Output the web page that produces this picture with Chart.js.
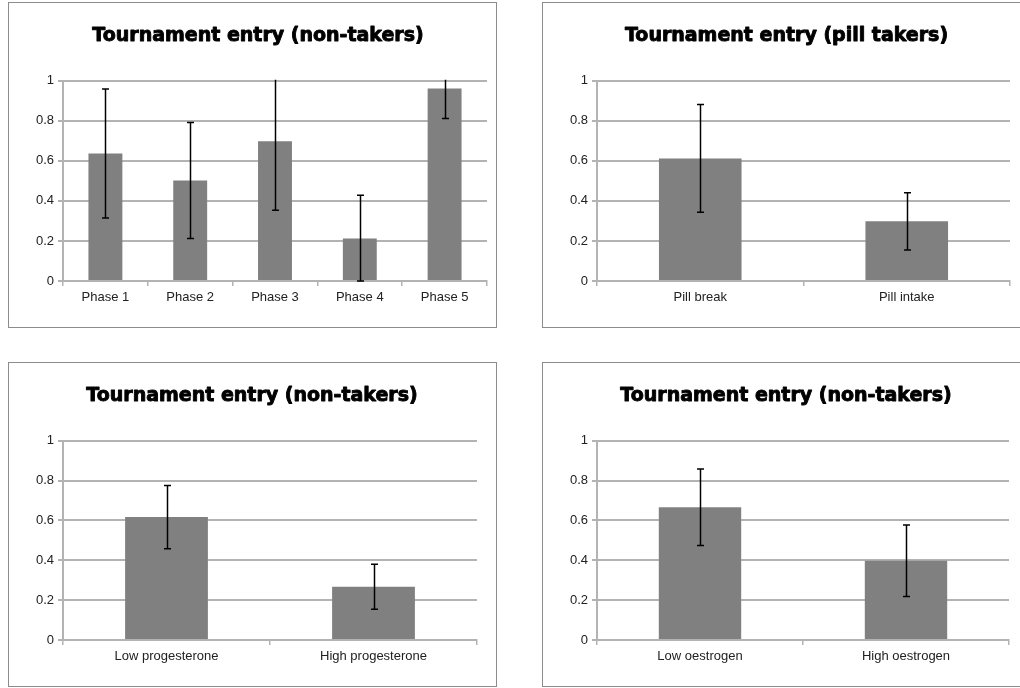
<!DOCTYPE html>
<html>
<head>
<meta charset="utf-8">
<title>Tournament entry</title>
<script src="https://cdn.jsdelivr.net/npm/chart.js@4/dist/chart.umd.min.js"></script>
<style>
  html, body { margin: 0; padding: 0; background: #fff; overflow: hidden; width: 1020px; height: 688px; }
  .panel { position: absolute; box-sizing: border-box; border: 1px solid #8c8c8c; background: #fff; }
  .panel canvas { display: block; }
</style>
</head>
<body>
<div class="panel" id="p1" style="left:8px; top:2px; width:489px; height:326px;"><canvas id="c1" width="487" height="324"></canvas></div>
<div class="panel" id="p2" style="left:542px; top:2px; width:489px; height:326px;"><canvas id="c2" width="487" height="324"></canvas></div>
<div class="panel" id="p3" style="left:8px; top:362px; width:489px; height:325px;"><canvas id="c3" width="487" height="323"></canvas></div>
<div class="panel" id="p4" style="left:542px; top:362px; width:489px; height:325px;"><canvas id="c4" width="487" height="323"></canvas></div>
<script>
// Cycle phase (non-takers)
const phaseLabels = ['Phase 1', 'Phase 2', 'Phase 3', 'Phase 4', 'Phase 5'];
const phaseValues = [0.637, 0.502, 0.698, 0.212, 0.962];
const phaseErr    = [0.322, 0.290, 0.345, 0.216, 0.150];

// Pill takers
const pillLabels = ['Pill break', 'Pill intake'];
const pillValues = [0.612, 0.298];
const pillErr    = [0.269, 0.143];

// Progesterone (non-takers)
const progLabels = ['Low progesterone', 'High progesterone'];
const progValues = [0.617, 0.267];
const progErr    = [0.159, 0.113];

// Oestrogen (non-takers)
const oestLabels = ['Low oestrogen', 'High oestrogen'];
const oestValues = [0.667, 0.398];
const oestErr    = [0.192, 0.179];

// Y axis ticks
const yTickLabels = ['0', '0.2', '0.4', '0.6', '0.8', '1'];

const GRID = '#b3b3b3';
const BAR = '#808080';
const TITLE_FONT = { family: 'DejaVu Sans', size: 19, weight: 'bold', lineHeight: 1.2 };
const TITLE_PAD = { top: 22, bottom: 33 };

// Draws symmetric error bars for each bar, clipped to the plot area
const errorBarPlugin = {
  id: 'errorBars',
  afterDatasetsDraw(chart, args, opts) {
    const err = opts.errors || [];
    const meta = chart.getDatasetMeta(0);
    const y = chart.scales.y;
    const area = chart.chartArea;
    const ctx = chart.ctx;
    ctx.save();
    ctx.beginPath();
    ctx.rect(area.left, area.top - 1, area.right - area.left, area.bottom - area.top + 2);
    ctx.clip();
    ctx.strokeStyle = '#000';
    ctx.lineWidth = 1.5;
    const cap = 3.5;
    meta.data.forEach((bar, i) => {
      const v = chart.data.datasets[0].data[i];
      const e = err[i] || 0;
      const x = Math.round(bar.x) + 0.5;
      const yHi = y.getPixelForValue(v + e);
      const yLo = y.getPixelForValue(Math.max(0, v - e));
      ctx.beginPath();
      ctx.moveTo(x, yHi);
      ctx.lineTo(x, yLo);
      ctx.moveTo(x - cap, yHi);
      ctx.lineTo(x + cap, yHi);
      ctx.moveTo(x - cap, yLo);
      ctx.lineTo(x + cap, yLo);
      ctx.stroke();
    });
    ctx.restore();
  }
};

// Thickens the title glyphs with an outline for a heavier look
const heavyTitlePlugin = {
  id: 'heavyTitle',
  afterDraw(chart) {
    const tb = chart.titleBlock;
    if (!tb) return;
    const ctx = chart.ctx;
    const lh = TITLE_FONT.size * TITLE_FONT.lineHeight;
    ctx.save();
    ctx.font = `${TITLE_FONT.weight} ${TITLE_FONT.size}px "${TITLE_FONT.family}"`;
    ctx.textAlign = 'center';
    ctx.textBaseline = 'middle';
    ctx.strokeStyle = '#000';
    ctx.lineWidth = 0.9;
    ctx.lineJoin = 'round';
    ctx.strokeText(chart.options.plugins.title.text, (tb.left + tb.right) / 2, tb.top + TITLE_PAD.top + lh / 2);
    ctx.restore();
  }
};

function makeChart(id, title, labels, values, errors, pad) {
  return new Chart(document.getElementById(id), {
    type: 'bar',
    data: {
      labels: labels,
      datasets: [{
        data: values,
        backgroundColor: BAR,
        borderWidth: 0,
        categoryPercentage: 1.0,
        barPercentage: 0.4
      }]
    },
    options: {
      responsive: false,
      animation: false,
      events: [],
      layout: { padding: { left: pad.left, right: pad.right, top: 0, bottom: 0 } },
      plugins: {
        legend: { display: false },
        tooltip: { enabled: false },
        title: {
          display: true,
          text: title,
          color: '#000',
          font: TITLE_FONT,
          padding: TITLE_PAD
        },
        errorBars: { errors: errors }
      },
      scales: {
        x: {
          offset: true,
          grid: {
            offset: true,
            drawOnChartArea: false,
            drawTicks: true,
            tickLength: 5,
            color: GRID,
            lineWidth: 1.5
          },
          border: { display: true, color: GRID, width: 2 },
          ticks: {
            color: '#222',
            padding: 4,
            font: { family: 'Liberation Sans', size: 13 }
          },
          afterFit(scale) { scale.height = 46; }
        },
        y: {
          min: 0,
          max: 1,
          grid: {
            color: GRID,
            lineWidth: 2,
            tickLength: 5
          },
          border: { display: true, color: GRID, width: 2 },
          ticks: {
            stepSize: 0.2,
            color: '#222',
            padding: 4,
            font: { family: 'Liberation Sans', size: 13 },
            callback: (v, i) => yTickLabels[i]
          },
          afterFit(scale) { scale.width = pad.axis; }
        }
      }
    },
    plugins: [errorBarPlugin, heavyTitlePlugin]
  });
}

makeChart('c1', 'Tournament entry (non-takers)', phaseLabels, phaseValues, phaseErr, { left: 20, right: 9, axis: 34 });
makeChart('c2', 'Tournament entry (pill takers)', pillLabels, pillValues, pillErr, { left: 20, right: 20, axis: 34 });
makeChart('c3', 'Tournament entry (non-takers)', progLabels, progValues, progErr, { left: 18, right: 19, axis: 36 });
makeChart('c4', 'Tournament entry (non-takers)', oestLabels, oestValues, oestErr, { left: 20, right: 21, axis: 34 });
</script>
</body>
</html>
